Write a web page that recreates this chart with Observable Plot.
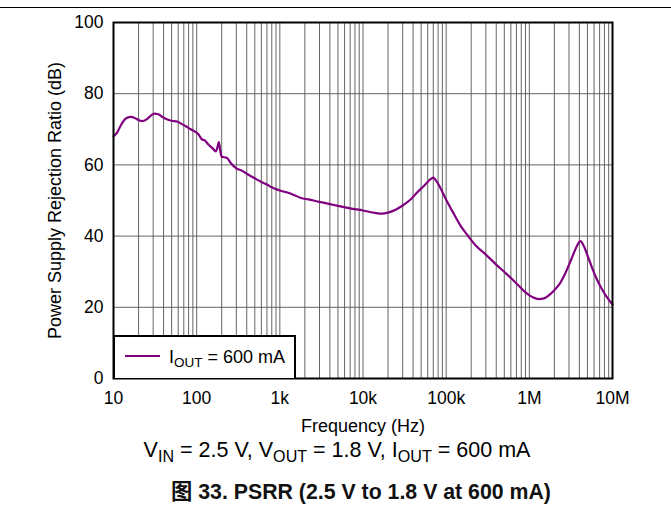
<!DOCTYPE html>
<html>
<head>
<meta charset="utf-8">
<script src="https://cdn.jsdelivr.net/npm/d3@7"></script>
<script src="https://cdn.jsdelivr.net/npm/@observablehq/plot@0.6"></script>
<style>
  body { margin: 0; background: #fff; font-family: Arial, "Liberation Sans", "Noto Sans CJK SC", sans-serif; }
  #wrap { position: relative; width: 671px; height: 523px; overflow: hidden; }
  #topline { position: absolute; left: 0; top: 7px; width: 671px; height: 0; border-top: 1.5px solid #000; }
  #chart { position: absolute; left: 0; top: 0; }
  #legend { position: absolute; left: 113px; top: 335px; width: 179px; height: 41px; background: #fff; border: 2px solid #000; border-bottom: none; box-sizing: content-box; }
  #legend .sw { position: absolute; left: 10px; top: 18px; width: 35px; height: 0; border-top: 2px solid #800080; }
  #legend .lt { position: absolute; left: 54px; top: 11px; font-size: 18px; line-height: 18px; white-space: nowrap; color: #000; }
  sub { font-size: 0.75em; vertical-align: -0.28em; line-height: 0; }
  #subtitle { position: absolute; left: 337px; top: 440px; transform: translateX(-50%); font-size: 21.5px; line-height: 21px; white-space: nowrap; color: #000; }
  #caption { position: absolute; left: 361px; top: 482px; transform: translateX(-50%); font-size: 21.3px; line-height: 21px; font-weight: bold; white-space: nowrap; color: #111; }
</style>
</head>
<body>
<div id="wrap">
  <div id="chart"></div>
  <div id="topline"></div>
  <div id="legend"><div class="sw"></div><div class="lt">I<sub>OUT</sub> = 600 mA</div></div>
  <div id="subtitle">V<sub>IN</sub> = 2.5 V, V<sub>OUT</sub> = 1.8 V, I<sub>OUT</sub> = 600 mA</div>
  <div id="caption">图 33. PSRR (2.5 V to 1.8 V at 600 mA)</div>
</div>
<script>
// Frequency (Hz) and PSRR (dB)
const freq = [10, 11, 12.5, 14, 16, 18, 20, 22, 25, 28, 31, 34, 38, 43, 50, 58, 65, 75, 85, 95,
  105, 115, 125, 140, 155, 170, 178, 185, 192, 200, 230, 260, 300, 350, 400, 450, 520, 600, 700, 800, 900,
  1000, 1200, 1500, 1800, 2200, 3000, 4000, 5000, 7000, 10000, 14000, 17000, 20000, 25000, 30000, 37000,
  45000, 55000, 65000, 70000, 76000, 85000, 100000, 120000, 150000, 180000, 230000, 300000, 400000,
  530000, 700000, 900000, 1100000, 1300000, 1500000, 1700000, 2000000, 2300000, 2700000, 3200000,
  3700000, 4100000, 4500000, 5200000, 6300000, 7500000, 8600000, 10000000];
const psrr = [68.0, 69.0, 71.5, 73.0, 73.5, 73.2, 72.6, 72.3, 72.8, 73.8, 74.4, 74.3, 73.6, 72.9, 72.4, 72.2, 71.6, 70.8, 70.0, 69.4,
  68.6, 67.2, 66.9, 65.6, 64.7, 63.8, 65.0, 66.4, 64.0, 62.3, 62.0, 60.4, 59.0, 58.4, 57.5, 56.8, 56.0, 55.2, 54.5, 53.7, 53.2,
  52.8, 52.3, 51.5, 50.7, 50.3, 49.6, 49.0, 48.5, 47.8, 47.2, 46.5, 46.3, 46.6, 47.5, 48.6, 50.2,
  52.3, 54.3, 56.0, 56.4, 55.5, 53.6, 50.2, 46.8, 42.8, 40.3, 37.2, 34.8, 32.0,
  29.4, 26.7, 24.2, 22.8, 22.3, 22.5, 23.3, 24.8, 26.5, 29.5, 33.5,
  37.0, 38.6, 37.3, 33.5, 28.5, 25.0, 22.8, 20.8];

const xTicks = [10, 100, 1e3, 1e4, 1e5, 1e6, 1e7];
const xTickLabels = ["10", "100", "1k", "10k", "100k", "1M", "10M"];
const yTicks = [0, 20, 40, 60, 80, 100];

const data = freq.map((f, i) => ({f, v: psrr[i]}));
// log grid: 1..9 × each decade
const gridX = xTicks.slice(0, -1).flatMap(d => d3.range(1, 10).map(m => m * d)).concat([1e7]);
const labelMap = new Map(xTicks.map((t, i) => [t, xTickLabels[i]]));

const chart = Plot.plot({
  width: 671,
  height: 445,
  marginLeft: 113,
  marginRight: 59,
  marginTop: 22,
  marginBottom: 67,
  style: {fontFamily: "Arial, 'Liberation Sans', sans-serif", fontSize: "17px", color: "#000", background: "transparent"},
  x: {type: "log", domain: [10, 1e7]},
  y: {domain: [0, 100]},
  marks: [
    Plot.ruleX(gridX, {stroke: "#555", strokeWidth: 1, strokeOpacity: 0.9}),
    Plot.ruleY(yTicks, {stroke: "#555", strokeWidth: 1, strokeOpacity: 0.9}),
    Plot.line(data, {x: "f", y: "v", stroke: "#800080", strokeWidth: 2.2, curve: "monotone-x"}),
    Plot.frame({stroke: "#000", strokeWidth: 2}),
    Plot.axisX(xTicks, {tickSize: 0, tickPadding: 13, tickFormat: d => labelMap.get(d), label: null, fontSize: 17.5}),
    Plot.axisX({label: "Frequency (Hz)", ticks: [], tickSize: 0, labelAnchor: "center", labelOffset: 53, labelArrow: "none", fontSize: 18}),
    Plot.axisY(yTicks, {tickSize: 0, tickPadding: 10, label: null, fontSize: 17.5}),
    Plot.axisY({label: "Power Supply Rejection Ratio (dB)", ticks: [], tickSize: 0, labelAnchor: "center", labelOffset: 65, labelArrow: "none", fontSize: 18})
  ]
});
document.getElementById("chart").appendChild(chart);
</script>
</body>
</html>
